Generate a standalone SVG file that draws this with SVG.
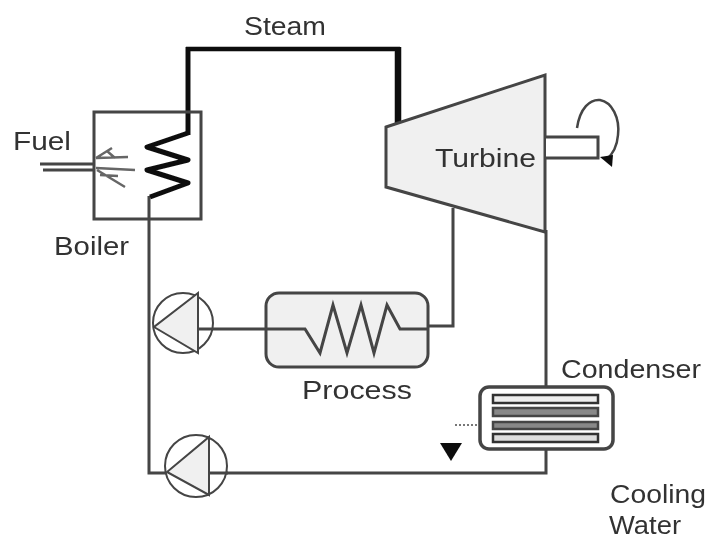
<svg xmlns="http://www.w3.org/2000/svg" width="708" height="540" viewBox="0 0 708 540">
<defs><filter id="soft" x="0" y="0" width="100%" height="100%"><feGaussianBlur stdDeviation="0.6"/></filter></defs>
<style>
text{font-family:"Liberation Sans",Arial,sans-serif;font-size:25px;fill:#333}
.l{fill:none;stroke:#444;stroke-width:3}
.t{fill:none;stroke:#111}
.f{fill:#f0f0f0;stroke:#444;stroke-width:3}
.c{fill:#fff;stroke:#444;stroke-width:2}
.p{fill:#f0f0f0;stroke:#444;stroke-width:2}
</style>
<rect width="708" height="540" fill="#fff"/>
<g filter="url(#soft)">
<g id="connectors">
<path class="t" stroke-width="4.5" d="M186 49H400"/>
<path class="t" stroke-width="5" d="M188 135V47"/>
<path class="t" stroke-width="6.5" d="M398 47V124"/>
<path class="l" d="M149 196V473H546V447"/>
<path class="l" d="M546 230V388"/>
<path class="l" d="M453 208V326H427"/>
<path class="l" d="M198 329H266"/>
<path class="l" d="M40 164H95M43 170H95"/>
</g>
<g id="boiler">
<rect class="l" x="94" y="112" width="107" height="107"/>
<path fill="none" stroke="#111" stroke-width="5" stroke-linejoin="round" d="M188 133L147 147L188 160L147 170L188 183L150 197"/>
<path fill="none" stroke="#666" stroke-width="2.5" d="M96 158L112 148M96 158L128 157M96 168L135 170M97 170L125 187M107 151L115 158M100 175L118 176"/>
<text x="13" y="150" textLength="58" lengthAdjust="spacingAndGlyphs">Fuel</text>
<text x="54" y="255" textLength="75" lengthAdjust="spacingAndGlyphs">Boiler</text>
</g>
<g id="turbine">
<path class="f" d="M386 127L545 75V232L386 187Z"/>
<text x="435" y="167" textLength="101" lengthAdjust="spacingAndGlyphs">Turbine</text>
<path fill="#fff" stroke="#444" stroke-width="3" d="M546 137H598V158H546"/>
<path fill="none" stroke="#444" stroke-width="2.5" d="M577 128C580 108 590 99 600 100C612 102 620 118 618 135C617 148 612 155 606 160"/>
<path fill="#111" d="M600 157L613 155L612 167Z"/>
</g>
<g id="pump1">
<circle class="c" cx="183" cy="323" r="30"/>
<path class="p" d="M198 293V353L154 327Z"/>
<path class="l" d="M198 329H213"/>
</g>
<g id="process">
<rect class="f" x="266" y="293" width="162" height="74" rx="13"/>
<path class="l" d="M266 329H305L320 353L333 305L347 353L361 305L374 353L387 305L400 329H428"/>
<text x="302" y="399" textLength="110" lengthAdjust="spacingAndGlyphs">Process</text>
</g>
<g id="pump2">
<circle class="c" cx="196" cy="466" r="31"/>
<path class="p" d="M209 437V495L167 472Z"/>
<path class="l" d="M209 473H228"/>
</g>
<g id="condenser">
<rect x="480" y="387" width="133" height="62" rx="9" fill="#fff" stroke="#444" stroke-width="3.5"/>
<rect x="493" y="395" width="105" height="8" fill="#eee" stroke="#333" stroke-width="2.5"/>
<rect x="493" y="408" width="105" height="8" fill="#888" stroke="#444" stroke-width="2.5"/>
<rect x="493" y="422" width="105" height="7" fill="#888" stroke="#444" stroke-width="2.5"/>
<rect x="493" y="434" width="105" height="8" fill="#ddd" stroke="#333" stroke-width="2.5"/>
<path stroke="#777" stroke-width="2" stroke-dasharray="2 2" fill="none" d="M455 425H479"/>
<path fill="#111" d="M440 443H462L451 461Z"/>
<text x="561" y="378" textLength="140" lengthAdjust="spacingAndGlyphs">Condenser</text>
</g>
<g id="labels">
<text x="244" y="35" textLength="82" lengthAdjust="spacingAndGlyphs">Steam</text>
<text x="610" y="503" textLength="96" lengthAdjust="spacingAndGlyphs">Cooling</text>
<text x="609" y="534" textLength="72" lengthAdjust="spacingAndGlyphs">Water</text>
</g>
</g>
</svg>
